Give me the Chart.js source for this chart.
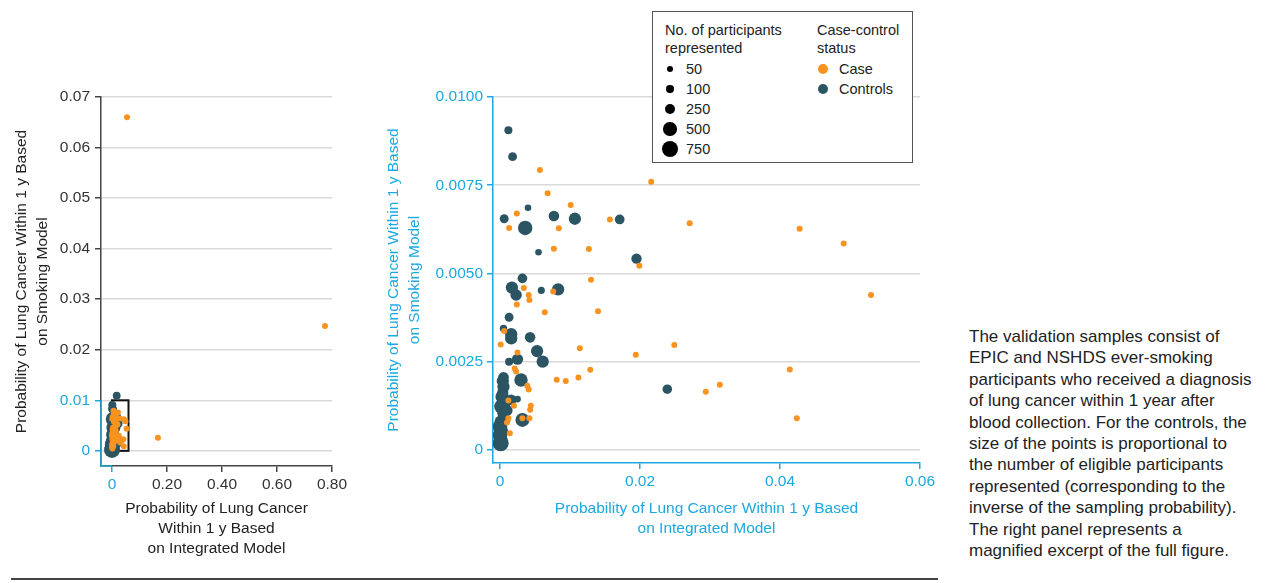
<!DOCTYPE html>
<html>
<head>
<meta charset="utf-8">
<title>Integrated vs smoking model</title>
<script src="https://cdn.jsdelivr.net/npm/chart.js@4.4.0/dist/chart.umd.min.js"></script>
<style>
  body { margin: 0; background: #fff; font-family: 'Liberation Sans', Arial, sans-serif; color: #222; }
  #page { position: relative; width: 1265px; height: 583px; overflow: hidden; }
  #full { position: absolute; left: 0; top: 0; width: 360px; height: 580px; }
  #zoomed { position: absolute; left: 370px; top: 0; width: 580px; height: 560px; }
  #legend { position: absolute; left: 652px; top: 11px; width: 259px; height: 150px; border: 1.5px solid #555; background: #fff; font-size: 14.5px; line-height: 18px; }
  #legend .hd { position: absolute; top: 9px; white-space: nowrap; }
  #legend .dot { position: absolute; border-radius: 50%; }
  #legend .lab { position: absolute; line-height: 18px; white-space: nowrap; }
  #note { position: absolute; left: 969px; top: 326px; font-size: 17px; line-height: 21.4px; white-space: nowrap; color: #222; }
  #rule { position: absolute; left: 11px; top: 578px; width: 927px; height: 2px; background: #444; }
</style>
</head>
<body>
<div id="page">
  <div id="full"><canvas id="fullChart"></canvas></div>
  <div id="zoomed"><canvas id="zoomChart"></canvas></div>
  <div id="legend">
    <div class="hd" style="left:12px">No. of participants<br>represented</div>
    <div class="hd" style="left:164px">Case-control<br>status</div>
  </div>
  <div id="note">The validation samples consist of<br>EPIC and NSHDS ever-smoking<br>participants who received a diagnosis<br>of lung cancer within 1 year after<br>blood collection. For the controls, the<br>size of the points is proportional to<br>the number of eligible participants<br>represented (corresponding to the<br>inverse of the sampling probability).<br>The right panel represents a<br>magnified excerpt of the full figure.</div>
  <div id="rule"></div>
</div>
<script>
// cases: probability from integrated model (x) and smoking model (y)
const caseX = [0.0545, 0.7745, 0.1670, 0.0057, 0.0068, 0.0101, 0.0024, 0.0013, 0.0084, 0.0157,
  0.0216, 0.0271, 0.0428, 0.0491, 0.0077, 0.0127, 0.0199, 0.0130, 0.0034, 0.0041,
  0.0042, 0.0076, 0.0024, 0.0064, 0.0140, 0.0530, 0.0006, 0.0001, 0.0114, 0.0249,
  0.0194, 0.0025, 0.0129, 0.0414, 0.0081, 0.0094, 0.0112, 0.0021, 0.0023, 0.0314,
  0.0294, 0.0424, 0.0039, 0.0041, 0.0044, 0.0043, 0.0042, 0.0032, 0.0020, 0.0010,
  0.0014, 0.0012, 0.0012];
const caseY = [0.0660, 0.0247, 0.0026, 0.00793, 0.00727, 0.00694, 0.00670, 0.00629, 0.00628, 0.00653,
  0.00760, 0.00642, 0.00627, 0.00585, 0.00570, 0.00569, 0.00522, 0.00482, 0.00459, 0.00439,
  0.00425, 0.00449, 0.00412, 0.00390, 0.00393, 0.00439, 0.00337, 0.00299, 0.00288, 0.00297,
  0.00270, 0.00276, 0.00227, 0.00228, 0.00199, 0.00195, 0.00205, 0.00231, 0.00222, 0.00185,
  0.00165, 0.00090, 0.00182, 0.00171, 0.00125, 0.00114, 0.00090, 0.00090, 0.00125, 0.00078,
  0.00047, 0.00090, 0.00140];

// controls: same axes, plus number of participants each one represents
const ctrlX = [0.0170, 0.0012, 0.0018, 0.0040, 0.0006, 0.0077, 0.0107, 0.0036, 0.0171, 0.0055,
  0.0195, 0.0032, 0.0017, 0.0023, 0.0059, 0.0083, 0.0013, 0.0005, 0.0016, 0.0016,
  0.0043, 0.0053, 0.0061, 0.0025, 0.0013, 0.0030, 0.0239, 0.0032, 0.0025, 0.0005,
  0.0004, 0.0005, 0.0004, 0.0003, 0.0016, 0.0008, 0.0002, 0.0010, 0.0005, 0.0007,
  0.0001, 0.0000, 0.0002, 0.0000, 0.0001, 0.0001];
const ctrlY = [0.01090, 0.00906, 0.00831, 0.00686, 0.00655, 0.00663, 0.00655, 0.00629, 0.00653, 0.00560,
  0.00542, 0.00486, 0.00460, 0.00439, 0.00452, 0.00455, 0.00376, 0.00344, 0.00328, 0.00316,
  0.00319, 0.00280, 0.00250, 0.00257, 0.00250, 0.00198, 0.00172, 0.00085, 0.00144, 0.00206,
  0.00195, 0.00179, 0.00163, 0.00151, 0.00142, 0.00135, 0.00123, 0.00112, 0.00104, 0.00085,
  0.00080, 0.00066, 0.00054, 0.00042, 0.00030, 0.00019];
const ctrlN = [120, 130, 170, 50, 170, 250, 400, 600, 210, 50,
  240, 210, 400, 330, 80, 400, 170, 100, 400, 400,
  250, 400, 400, 300, 130, 500, 200, 550, 60, 250,
  400, 400, 300, 500, 250, 300, 600, 300, 400, 300,
  400, 600, 500, 600, 500, 750];

// ticks
const fullXTicks = [0, 0.2, 0.4, 0.6, 0.8];
const fullXLabels = ['0', '0.20', '0.40', '0.60', '0.80'];
const fullYTicks = [0, 0.01, 0.02, 0.03, 0.04, 0.05, 0.06, 0.07];
const fullYLabels = ['0', '0.01', '0.02', '0.03', '0.04', '0.05', '0.06', '0.07'];
const zoomXTicks = [0, 0.02, 0.04, 0.06];
const zoomXLabels = ['0', '0.02', '0.04', '0.06'];
const zoomYTicks = [0, 0.0025, 0.005, 0.0075, 0.01];
const zoomYLabels = ['0', '0.0025', '0.0050', '0.0075', '0.0100'];

// magnified window (x range, y range)
const zoomXRange = [0, 0.06];
const zoomYRange = [0, 0.01];

// legend
const legendN = [50, 100, 250, 500, 750];
const statusLabels = ['Case', 'Controls'];

// styles
const ORANGE = '#f7931e', TEAL = '#2c5564', CYAN = '#1ca8e0', AXIS = '#444', GRID = '#d9d9d9';
const dotRadius = [3.3, 3.7, 5.3, 6.7, 8];
const caseRadius = 3;

function radiusFor(n) {
  if (n <= legendN[0]) return dotRadius[0];
  for (let i = 1; i < legendN.length; i++) {
    if (n <= legendN[i]) {
      const t = (n - legendN[i - 1]) / (legendN[i] - legendN[i - 1]);
      return dotRadius[i - 1] + t * (dotRadius[i] - dotRadius[i - 1]);
    }
  }
  return dotRadius[dotRadius.length - 1];
}

const casePts = caseX.map((x, i) => ({ x: x, y: caseY[i] }));
const ctrlPts = ctrlX.map((x, i) => ({ x: x, y: ctrlY[i], n: ctrlN[i] }));
const inWindow = p => p.x <= zoomXRange[1] && p.y <= zoomYRange[1];

Chart.defaults.font.family = "'Liberation Sans', Arial, sans-serif";
Chart.defaults.font.size = 15.5;
Chart.defaults.color = '#333';

function datasets(cases, ctrls) {
  return [
    { label: 'Case', data: cases, backgroundColor: ORANGE, borderWidth: 0, pointRadius: caseRadius },
    { label: 'Controls', data: ctrls, backgroundColor: TEAL, borderWidth: 0,
      pointRadius: c => radiusFor(c.raw.n) }
  ];
}

function fixedTicks(values) {
  return s => { s.ticks = values.map(v => ({ value: v })); };
}

const titleFont = { size: 15.5, lineHeight: 1.3 };

// full figure: black box marks the magnified part, cyan marks its axes
const magnifyBox = {
  id: 'magnifyBox',
  beforeDatasetsDraw(chart) {
    const { ctx, scales: { x, y } } = chart;
    const l = x.getPixelForValue(zoomXRange[0]), r = x.getPixelForValue(zoomXRange[1]);
    const t = y.getPixelForValue(zoomYRange[1]), b = y.getPixelForValue(zoomYRange[0]);
    ctx.save();
    ctx.strokeStyle = '#111';
    ctx.lineWidth = 2;
    ctx.strokeRect(l, t, r - l, b - t);
    ctx.restore();
  },
  afterDraw(chart) {
    const { ctx, chartArea: a, scales: { x, y } } = chart;
    ctx.save();
    ctx.strokeStyle = CYAN;
    ctx.lineWidth = 1.5;
    ctx.beginPath();
    ctx.moveTo(a.left, y.getPixelForValue(zoomYRange[1]));
    ctx.lineTo(a.left, a.bottom);
    ctx.lineTo(x.getPixelForValue(zoomXRange[0]), a.bottom);
    ctx.stroke();
    ctx.restore();
  }
};

const isZoomTick = (v, range) => v >= range[0] && v <= range[1];

new Chart(document.getElementById('fullChart'), {
  type: 'scatter',
  data: { datasets: datasets(casePts, ctrlPts) },
  plugins: [magnifyBox],
  options: {
    responsive: true,
    maintainAspectRatio: false,
    animation: false,
    events: [],
    layout: { padding: { top: 97, left: 8, right: 28, bottom: 17 } },
    plugins: { legend: { display: false }, tooltip: { enabled: false } },
    scales: {
      x: {
        min: -0.04, max: 0.8,
        afterBuildTicks: fixedTicks(fullXTicks),
        afterFit: s => { s.height = 97; },
        ticks: { autoSkip: false, maxRotation: 0, padding: 3,
          callback: (v, i) => fullXLabels[i],
          color: c => isZoomTick(c.tick.value, zoomXRange) ? CYAN : '#333' },
        grid: { drawOnChartArea: false, tickLength: 6, lineWidth: 1.5,
          tickColor: c => isZoomTick(c.tick.value, zoomXRange) ? CYAN : AXIS },
        border: { color: AXIS, width: 1.5 },
        title: { display: true, color: '#222', font: titleFont,
          text: ['Probability of Lung Cancer', 'Within 1 y Based', 'on Integrated Model'] }
      },
      y: {
        min: -0.003, max: 0.07,
        afterBuildTicks: fixedTicks(fullYTicks),
        afterFit: s => { s.width = 93; },
        ticks: { autoSkip: false, padding: 5,
          callback: (v, i) => fullYLabels[i],
          color: c => isZoomTick(c.tick.value, zoomYRange) ? CYAN : '#333' },
        grid: { color: GRID, lineWidth: 1.5, tickLength: 6,
          tickColor: c => isZoomTick(c.tick.value, zoomYRange) ? CYAN : AXIS },
        border: { color: AXIS, width: 1.5 },
        title: { display: true, color: '#222', font: titleFont,
          text: ['Probability of Lung Cancer Within 1 y Based', 'on Smoking Model'] }
      }
    }
  }
});

new Chart(document.getElementById('zoomChart'), {
  type: 'scatter',
  data: { datasets: datasets(casePts.filter(inWindow), ctrlPts.filter(inWindow)) },
  options: {
    responsive: true,
    maintainAspectRatio: false,
    animation: false,
    events: [],
    layout: { padding: { top: 97, left: 10, right: 30, bottom: 17 } },
    plugins: { legend: { display: false }, tooltip: { enabled: false } },
    scales: {
      x: {
        min: -0.001, max: zoomXRange[1],
        afterBuildTicks: fixedTicks(zoomXTicks),
        afterFit: s => { s.height = 80; },
        ticks: { autoSkip: false, maxRotation: 0, padding: 3, color: CYAN,
          callback: (v, i) => zoomXLabels[i] },
        grid: { drawOnChartArea: false, tickLength: 6, lineWidth: 1.5, tickColor: CYAN },
        border: { color: CYAN, width: 1.5 },
        title: { display: true, color: CYAN, font: titleFont,
          text: ['Probability of Lung Cancer Within 1 y Based', 'on Integrated Model'] }
      },
      y: {
        min: -0.00037, max: zoomYRange[1],
        afterBuildTicks: fixedTicks(zoomYTicks),
        afterFit: s => { s.width = 113; },
        ticks: { autoSkip: false, padding: 4, color: CYAN,
          callback: (v, i) => zoomYLabels[i] },
        grid: { color: GRID, lineWidth: 1.5, tickLength: 6, tickColor: CYAN },
        border: { color: CYAN, width: 1.5 },
        title: { display: true, color: CYAN, font: titleFont,
          text: ['Probability of Lung Cancer Within 1 y Based', 'on Smoking Model'] }
      }
    }
  }
});

// legend rows
const legend = document.getElementById('legend');
function addRow(cx, cy, r, color, text) {
  const d = document.createElement('div');
  d.className = 'dot';
  d.style.left = (cx - r) + 'px';
  d.style.top = (cy - r) + 'px';
  d.style.width = d.style.height = (2 * r) + 'px';
  d.style.background = color;
  legend.appendChild(d);
  const l = document.createElement('div');
  l.className = 'lab';
  l.style.left = (cx + 16) + 'px';
  l.style.top = (cy - 9) + 'px';
  l.textContent = text;
  legend.appendChild(l);
}
legendN.forEach((n, i) => addRow(17, 57 + 20 * i, radiusFor(n), '#000', String(n)));
addRow(170, 57, 5.3, ORANGE, statusLabels[0]);
addRow(170, 77, 5.3, TEAL, statusLabels[1]);
</script>
</body>
</html>
